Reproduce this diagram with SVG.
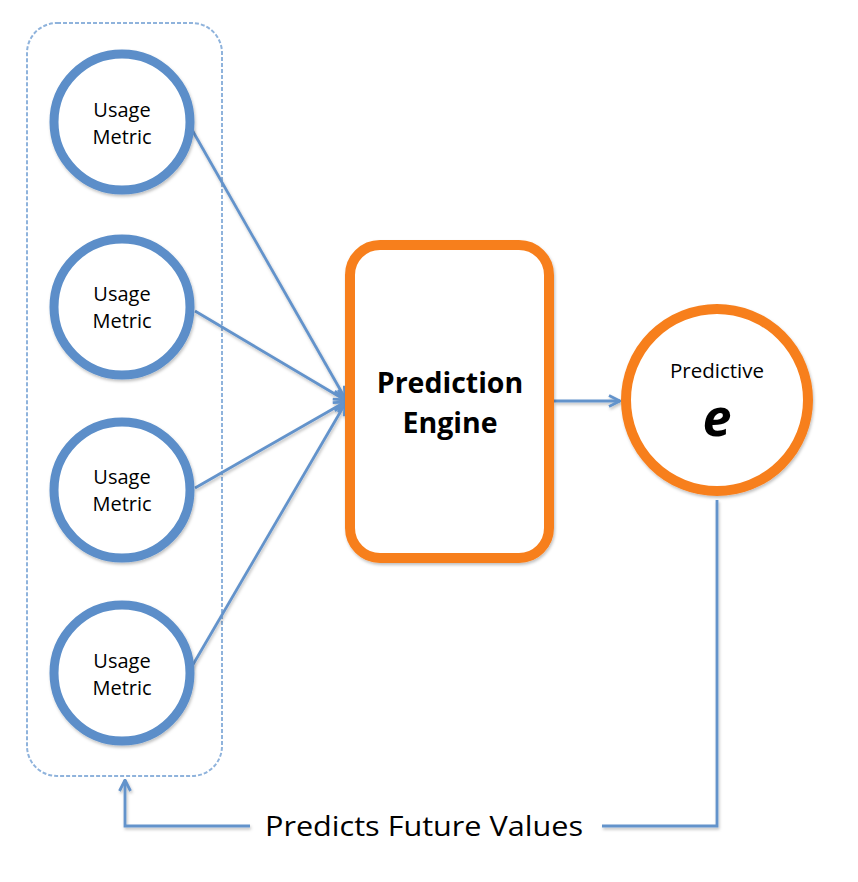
<svg xmlns="http://www.w3.org/2000/svg" width="858" height="882" viewBox="0 0 858 882">
<style>
.metric{fill:#fff;stroke:#5b8ec9;stroke-width:9}
.conn{fill:none;stroke:#6393cb;stroke-width:2.8}
.lbl{font-family:"Open Sans","Noto Sans",sans-serif;fill:#000;text-anchor:middle}
</style>
<defs>
<filter id="sh" x="-10%" y="-10%" width="125%" height="125%">
<feDropShadow dx="1" dy="2" stdDeviation="1.5" flood-color="#000" flood-opacity="0.25"/>
</filter>
<marker id="arr" viewBox="0 0 14 14" refX="12.5" refY="7" markerWidth="14" markerHeight="14" markerUnits="userSpaceOnUse" orient="auto">
<path d="M1.5,1.5 L12.5,7 L1.5,12.5" fill="none" stroke="#6393cb" stroke-width="2.8"/>
</marker>
</defs>
<rect width="858" height="882" fill="#fff"/>
<g id="container">
<rect x="27" y="23" width="195" height="753" rx="30" fill="none" stroke="#8fb3dc" stroke-width="2" stroke-dasharray="4,2"/>
</g>
<g id="connectors" filter="url(#sh)">
<line class="conn" x1="191" y1="128" x2="345" y2="398" marker-end="url(#arr)"/>
<line class="conn" x1="195" y1="311" x2="345" y2="400" marker-end="url(#arr)"/>
<line class="conn" x1="195" y1="488" x2="345" y2="402" marker-end="url(#arr)"/>
<line class="conn" x1="191" y1="668" x2="345" y2="404" marker-end="url(#arr)"/>
<line class="conn" x1="554" y1="401" x2="620" y2="401" marker-end="url(#arr)"/>
<polyline class="conn" points="717,500 717,826 602,826"/>
<polyline class="conn" points="250,826 125,826 125,780" marker-end="url(#arr)"/>
</g>
<g id="metric1">
<circle class="metric" cx="122" cy="122" r="68" filter="url(#sh)"/>
<text class="lbl" x="122" y="117" font-size="20">Usage</text>
<text class="lbl" x="122" y="144" font-size="20">Metric</text>
</g>
<g id="metric2">
<circle class="metric" cx="122" cy="307" r="68" filter="url(#sh)"/>
<text class="lbl" x="122" y="301" font-size="20">Usage</text>
<text class="lbl" x="122" y="328" font-size="20">Metric</text>
</g>
<g id="metric3">
<circle class="metric" cx="122" cy="490" r="68" filter="url(#sh)"/>
<text class="lbl" x="122" y="484" font-size="20">Usage</text>
<text class="lbl" x="122" y="511" font-size="20">Metric</text>
</g>
<g id="metric4">
<circle class="metric" cx="122" cy="673" r="68" filter="url(#sh)"/>
<text class="lbl" x="122" y="668" font-size="20">Usage</text>
<text class="lbl" x="122" y="695" font-size="20">Metric</text>
</g>
<g id="engine">
<rect x="350" y="245" width="199" height="313" rx="30" fill="#fff" stroke="#f77f1c" stroke-width="10" filter="url(#sh)"/>
<text class="lbl" x="450" y="393" font-size="28.5" font-weight="bold">Prediction</text>
<text class="lbl" x="450" y="433" font-size="28.5" font-weight="bold">Engine</text>
</g>
<g id="predictive">
<circle cx="717" cy="400" r="91" fill="#fff" stroke="#f77f1c" stroke-width="10" filter="url(#sh)"/>
<text class="lbl" x="717" y="378" font-size="20.5">Predictive</text>
<text class="lbl" x="717" y="436" font-size="52" font-weight="bold" font-style="italic">e</text>
</g>
<g id="feedback-label">
<text class="lbl" x="424" y="836" font-size="28" textLength="318" lengthAdjust="spacingAndGlyphs">Predicts Future Values</text>
</g>
</svg>
